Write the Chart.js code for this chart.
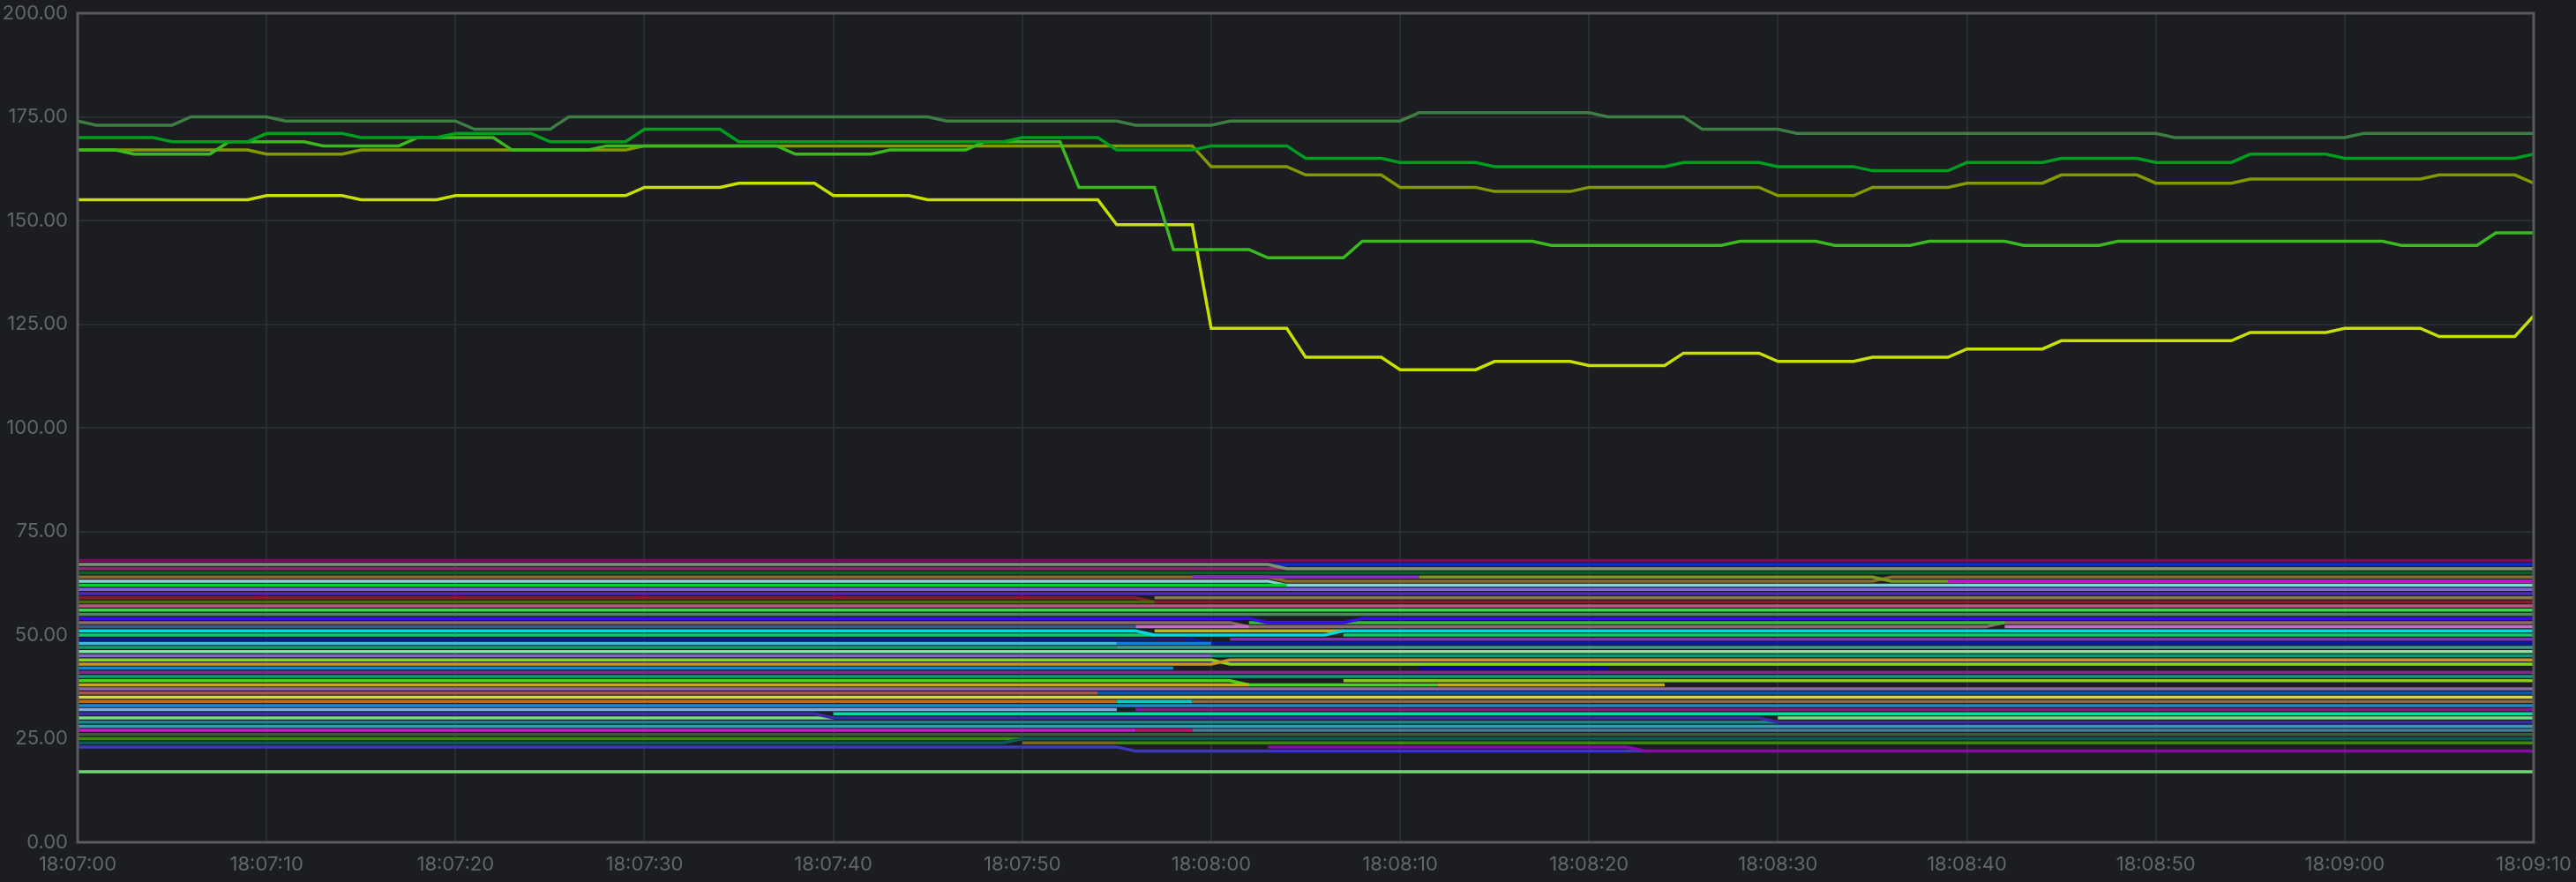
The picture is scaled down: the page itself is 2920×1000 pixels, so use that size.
<!DOCTYPE html>
<html>
<head>
<meta charset="utf-8">
<title>Metrics</title>
<script src="https://cdn.jsdelivr.net/npm/chart.js@4/dist/chart.umd.min.js"></script>
<style>
    html, body { margin: 0; padding: 0; background: #1b1d21; overflow: hidden; }
    #wrap { width: 2920px; height: 1000px; position: relative; }
    canvas { display: block; }
</style>
</head>
<body>
<div id="wrap"><canvas id="chart"></canvas></div>
<script>
// ============================================
// Data
// ============================================

// x axis = seconds after 18:07:00, one sample per second
const timeLabels = ['18:07:00', '18:07:10', '18:07:20', '18:07:30', '18:07:40', '18:07:50', '18:08:00',
                    '18:08:10', '18:08:20', '18:08:30', '18:08:40', '18:08:50', '18:09:00', '18:09:10'];

// upper group: one reading per 5 s step (held 4 s, moves over the next second)
// phase = second at which the first step change happens
const topGreen    = [174, 173, 175, 174, 174, 172, 175, 175, 175, 175, 174, 174, 173, 174, 174, 176, 176, 175, 172, 171, 171, 171, 171, 170, 170, 171, 171];
const midGreen    = [170, 169, 171, 170, 171, 169, 172, 169, 169, 169, 170, 167, 168, 165, 164, 163, 163, 164, 163, 162, 164, 165, 164, 166, 165, 165, 166];
const brightGreen = [167, 166, 169, 168, 170, 167, 168, 168, 166, 167, 169, 158, 143, 141, 145, 145, 144, 144, 145, 144, 145, 144, 145, 145, 145, 144, 147];
const oliveLine   = [167, 167, 166, 167, 167, 167, 168, 168, 168, 168, 168, 168, 163, 161, 158, 157, 158, 158, 156, 158, 159, 161, 159, 160, 160, 161, 159];
const yellowLine  = [155, 155, 156, 155, 156, 156, 158, 159, 156, 155, 155, 149, 124, 117, 114, 116, 115, 118, 116, 117, 119, 121, 121, 123, 124, 122, 127];
const topPhases   = [1, 5, 3, 5, 5];

// lower band: [second, value] change points, null = series not shown
const bandSteps = [
    [[0, 68]],
    [[0, 67]],
    [[0, 66]],
    [[0, 67], [64, 66]],
    [[0, 65]],
    [[0, 64], [64, 63], [96, 64]],
    [[0, null], [59, 64], [71, null]],
    [[0, null], [71, 64], [96, 63]],
    [[0, null], [99, 63]],
    [[0, 63], [64, 62]],
    [[0, 62], [64, null]],
    [[0, 61]],
    [[0, 60]],
    [[0, 59], [57, 58]],
    [[0, null], [57, 59]],
    [[0, 58], [57, null]],
    [[0, 57]],
    [[0, 56]],
    [[0, 55]],
    [[0, 53], [62, 52], [102, 53]],
    [[0, null], [62, 53], [102, null]],
    [[0, null], [56, 52], [62, null], [102, 52]],
    [[0, 52], [56, null]],
    [[0, 54], [63, 53], [68, 54]],
    [[0, null], [57, 51], [67, null]],
    [[0, 50], [57, null], [67, 50]],
    [[0, 51], [57, 50], [67, 51]],
    [[0, 49], [60, 48]],
    [[0, null], [61, 49]],
    [[0, 48], [55, null]],
    [[0, null], [55, 48], [60, null]],
    [[0, 47], [55, null], [60, 45]],
    [[0, null], [55, 47]],
    [[0, 46]],
    [[0, 45], [60, null]],
    [[0, 44], [61, 43]],
    [[0, 43], [61, 44]],
    [[0, 42], [58, null]],
    [[0, null], [71, 42], [81, null]],
    [[0, 41]],
    [[0, 40]],
    [[0, 39], [62, 38], [72, null]],
    [[0, null], [67, 39]],
    [[0, 38], [62, null], [72, 38], [84, null]],
    [[0, 37]],
    [[0, 36], [54, null]],
    [[0, null], [54, 36]],
    [[0, 35]],
    [[0, 34], [55, null]],
    [[0, null], [55, 34], [59, null]],
    [[0, null], [59, 34]],
    [[0, 33]],
    [[0, 32], [55, null]],
    [[0, null], [56, 32]],
    [[0, null], [40, 31]],
    [[0, 30], [40, null], [90, 30]],
    [[0, 29], [90, null]],
    [[0, 31], [40, 30], [90, 29]],
    [[0, 28]],
    [[0, 27], [56, null]],
    [[0, null], [56, 27], [59, null]],
    [[0, null], [59, 27]],
    [[0, 26]],
    [[0, 25], [50, null], [55, 24]],
    [[0, 24], [50, 25]],
    [[0, null], [50, 24], [55, null]],
    [[0, 23], [56, 22], [83, null]],
    [[0, null], [63, 23], [83, 22]],
    [[0, 17]]
];

// ============================================
// Styles
// ============================================

const topColors = ['#3e7d44', '#009e1e', '#3cb91e', '#809a00', '#c8e000'];

const bandColors = [
    '#7d0a5c', '#0a2ad8', '#8a2a6a', '#7e9170', '#0b5e2a', '#8a6a2a', '#8a2ad0', '#7a9a1a',
    '#c80ad8', '#80d8d0', '#00d42a', '#7a64d8', '#4a2ab8', '#8a1a2a', '#8a7a4a', '#4a6a0a',
    '#b85a7a', '#3ad84a', '#4a8a5a', '#8a6a6a', '#3ab83a', '#c86ac8', '#3a5a8a', '#3a0ae8',
    '#b8b820', '#10c870', '#00d8e0', '#0a1a9a', '#7a2ad8', '#40b8e0', '#0a80e0', '#109870',
    '#3a9a8a', '#80e0a0', '#7a6ac8', '#88d81a', '#c8961e', '#0a8ad0', '#0a0a9a', '#7a2a8a',
    '#109a7a', '#40d810', '#88c81a', '#c8b000', '#8a6aa8', '#a05a4a', '#0a5aa8', '#d8d840',
    '#c86a0a', '#10c8c0', '#8a6a3a', '#1a8ad0', '#80a8e0', '#8a10a8', '#10d8a0', '#70e080',
    '#108a8a', '#3a2aa8', '#3a9ab8', '#c818c8', '#c0106a', '#4a7a9a', '#3a5a3a', '#3a8a0a',
    '#0a5a5a', '#7a6a1a', '#3a3ab8', '#8a0aa8', '#70d870'
];

// ============================================
// Helpers
// ============================================

// expand 5 s step readings into per-second samples
function stepPoints(values, phase) {
    const pts = [];
    for (let s = 0; s <= 130; s++) {
        const i = Math.floor((s - phase + 5) / 5);
        pts.push({ x: s, y: values[i] });
    }
    return pts;
}

// expand change points into per-second samples
// (a series that stops keeps its last value for that second, so no hole is left)
function changePoints(steps) {
    const pts = [];
    let j = 0;
    for (let s = 0; s <= 130; s++) {
        while (j + 1 < steps.length && steps[j + 1][0] <= s) j++;
        let v = steps[j][1];
        if (v === null && j > 0 && steps[j][0] === s) v = steps[j - 1][1];
        pts.push({ x: s, y: v });
    }
    return pts;
}

function lineDataset(points, color, order) {
    return {
        data: points,
        borderColor: color,
        borderWidth: 3.5,
        pointRadius: 0,
        tension: 0,
        spanGaps: false,
        order: order
    };
}

// frame round the plot area
const framePlugin = {
    id: 'frame',
    afterDatasetsDraw(chart) {
        const a = chart.chartArea;
        const ctx = chart.ctx;
        ctx.save();
        ctx.strokeStyle = '#5a5b5d';
        ctx.lineWidth = 3;
        ctx.strokeRect(a.left, a.top, a.right - a.left, a.bottom - a.top);
        ctx.restore();
    }
};

// ============================================
// Chart
// ============================================

function renderChart() {
    const datasets = [];
    const topSeries = [topGreen, midGreen, brightGreen, oliveLine, yellowLine];
    for (let i = 0; i < topSeries.length; i++) {
        datasets.push(lineDataset(stepPoints(topSeries[i], topPhases[i]), topColors[i], 0));
    }
    // later band entries are painted over earlier ones
    for (let i = 0; i < bandSteps.length; i++) {
        datasets.push(lineDataset(changePoints(bandSteps[i]), bandColors[i], 200 - i));
    }

    const tickFont = { family: 'Inter', size: 22 };
    const ctx = document.getElementById('chart').getContext('2d');

    new Chart(ctx, {
        type: 'line',
        data: { datasets: datasets },
        options: {
            responsive: true,
            maintainAspectRatio: false,
            animation: false,
            normalized: true,
            layout: { padding: { top: 15, right: 48, left: 0, bottom: 0 } },
            plugins: {
                legend: { display: false },
                tooltip: { enabled: false }
            },
            scales: {
                x: {
                    type: 'linear',
                    min: 0,
                    max: 130,
                    afterFit: function(scale) {
                        scale.height = 45;
                        scale.paddingLeft = 0;
                        scale.paddingRight = 0;
                    },
                    border: { display: false },
                    grid: { color: '#2a2d31', lineWidth: 2, drawTicks: false },
                    ticks: {
                        stepSize: 10,
                        autoSkip: false,
                        maxRotation: 0,
                        padding: 12,
                        color: '#63666b',
                        font: tickFont,
                        callback: function(v) { return timeLabels[v / 10]; }
                    }
                },
                y: {
                    min: 0,
                    max: 200,
                    afterFit: function(scale) {
                        scale.width = 88;
                        scale.paddingTop = 0;
                        scale.paddingBottom = 0;
                    },
                    border: { display: false },
                    grid: { color: '#2a2d31', lineWidth: 2, drawTicks: false },
                    ticks: {
                        stepSize: 25,
                        padding: 11,
                        color: '#63666b',
                        font: tickFont,
                        callback: function(v) { return v.toFixed(2); }
                    }
                }
            }
        },
        plugins: [framePlugin]
    });
}

document.addEventListener('DOMContentLoaded', renderChart);
</script>
</body>
</html>
